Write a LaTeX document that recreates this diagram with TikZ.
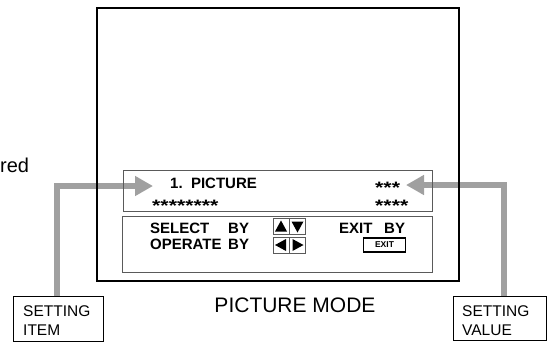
\documentclass[tikz,border=0pt]{standalone}
\usepackage{fontspec}
\usepackage{graphicx}
\setmainfont{Liberation Sans}
\usetikzlibrary{arrows.meta}
\definecolor{connGray}{RGB}{160,160,160}
\definecolor{boxGray}{RGB}{90,90,90}
\newcommand{\starrow}[1]{\scalebox{1.42}[1.1]{#1}}
\begin{document}
\begin{tikzpicture}[x=1pt,y=-1pt,
  scr/.style={inner sep=0pt,anchor=base west,font=\fontsize{15}{18}\selectfont\bfseries},
  stars/.style={inner sep=0pt,anchor=base west,font=\fontsize{15}{18}\selectfont\bfseries},
  lbl/.style={inner sep=0pt,anchor=base west,font=\fontsize{15.5}{18}\selectfont},
  conn/.style={draw=connGray,line width=6pt,line join=miter,-{Triangle[length=18pt,width=19pt]}},
  keybox/.style={draw=boxGray,line width=0.9pt,minimum width=16pt,minimum height=16pt,inner sep=0pt},
  tagbox/.style={draw=black,line width=1.4pt,anchor=north west,inner sep=0pt}
]
\useasboundingbox (0,0) rectangle (549,343);

% side text (cut at the left edge)
\node[inner sep=0pt,anchor=base west,font=\fontsize{20}{24}\selectfont] (red) at (0,172) {red};

% labels
\node[tagbox,minimum width=90pt,minimum height=45pt] (item) at (13,296) {};
\node[tagbox,minimum width=93pt,minimum height=44pt] (value) at (453,296) {};
\node[lbl] (itemA) at (23,316) {SETTING};
\node[lbl] (itemB) at (23,335) {ITEM};
\node[lbl] (valueA) at (462,316) {SETTING};
\node[lbl] (valueB) at (462,335) {VALUE};

% connectors (under the frame)
\coordinate (tipL) at (153,186);
\coordinate (tipR) at (406,185);
\draw[conn] ([xshift=-2pt]item.north) |- (tipL);
\draw[conn] ([xshift=3.5pt]value.north) |- (tipR);

% TV frame
\node[draw=black,line width=1.8pt,anchor=north west,minimum width=362pt,minimum height=273pt,inner sep=0pt] (frame) at (96,7) {};

% menu boxes
\node[draw=boxGray,line width=0.9pt,anchor=north west,minimum width=309pt,minimum height=41pt,inner sep=0pt] (menu) at (123,170) {};
\node[draw=boxGray,line width=0.9pt,anchor=north west,minimum width=310pt,minimum height=56pt,inner sep=0pt] (guide) at (122,216) {};

\node[scr] (title) at (170,188) {1.\ \ PICTURE};
\node[stars] (starsA) at (152,211) {\starrow{********}};
\node[stars] (starsB) at (375,193) {\starrow{***}};
\node[stars] (starsC) at (375,211) {\starrow{****}};

\node[scr] (select) at (150,233) {SELECT};
\node[scr] (by1) at (228,233) {BY};
\node[scr] (exit) at (339,233) {EXIT};
\node[scr] (by3) at (384,233) {BY};
\node[scr] (operate) at (150,249) {OPERATE};
\node[scr] (by2) at (228,249) {BY};

% arrow keys
\node[keybox] (kup) at (281,226.5) {};
\node[keybox] (kdown) at (297.5,226.5) {};
\node[keybox] (kleft) at (281,245) {};
\node[keybox] (kright) at (297.5,245) {};
\fill[black] ([xshift=-6pt,yshift=-5pt]kup.center) -- ([xshift=6pt,yshift=-5pt]kup.center) -- ([yshift=6pt]kup.center) -- cycle;
\fill[black] ([xshift=-6pt,yshift=5pt]kdown.center) -- ([xshift=6pt,yshift=5pt]kdown.center) -- ([yshift=-6pt]kdown.center) -- cycle;
\fill[black] ([xshift=5pt,yshift=-6pt]kleft.center) -- ([xshift=5pt,yshift=6pt]kleft.center) -- ([xshift=-6pt]kleft.center) -- cycle;
\fill[black] ([xshift=-5pt,yshift=-6pt]kright.center) -- ([xshift=-5pt,yshift=6pt]kright.center) -- ([xshift=6pt]kright.center) -- cycle;

% EXIT button
\node[draw=black,line width=1.6pt,minimum width=42pt,minimum height=14pt,inner sep=0pt,font=\fontsize{8.5}{10}\selectfont\bfseries] (exitkey) at (384.5,245) {EXIT};

% caption
\node[inner sep=0pt,anchor=base,font=\fontsize{21}{24}\selectfont] (caption) at (295,312) {PICTURE MODE};
\end{tikzpicture}
\end{document}
